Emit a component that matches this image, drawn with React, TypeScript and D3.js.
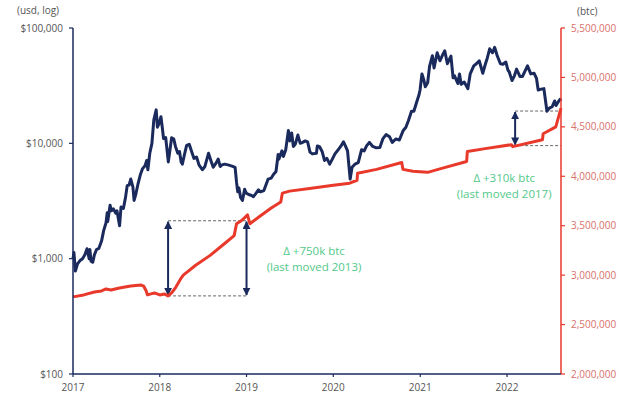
import React from 'react';
import * as d3 from 'd3';

// bitcoin price (usd)
const priceData: [string, number][] = [
  ['2017-01-01', 1000], ['2017-01-05', 1130], ['2017-01-11', 780], ['2017-01-20', 900],
  ['2017-02-01', 970], ['2017-02-10', 1000], ['2017-02-20', 1080], ['2017-03-01', 1220],
  ['2017-03-10', 1000], ['2017-03-13', 1200], ['2017-03-18', 950], ['2017-03-25', 930],
  ['2017-04-01', 1080], ['2017-04-10', 1200], ['2017-04-20', 1230], ['2017-05-01', 1420],
  ['2017-05-10', 1750], ['2017-05-20', 2050], ['2017-05-25', 2500], ['2017-05-27', 2100],
  ['2017-06-06', 2900], ['2017-06-12', 2600], ['2017-06-20', 2700], ['2017-06-30', 2480],
  ['2017-07-05', 2600], ['2017-07-16', 1930], ['2017-07-22', 2800], ['2017-08-01', 2720],
  ['2017-08-10', 3400], ['2017-08-17', 4300], ['2017-08-25', 4350], ['2017-09-01', 4900],
  ['2017-09-10', 4200], ['2017-09-15', 3200], ['2017-09-22', 3600], ['2017-10-01', 4400],
  ['2017-10-12', 5400], ['2017-10-20', 6000], ['2017-10-31', 6400], ['2017-11-07', 7100],
  ['2017-11-12', 5900], ['2017-11-20', 8200], ['2017-11-29', 10000], ['2017-12-07', 16000],
  ['2017-12-17', 19500], ['2017-12-22', 13800], ['2017-12-28', 14700],
  ['2018-01-06', 17000], ['2018-01-12', 13500], ['2018-01-17', 11000], ['2018-01-26', 11200],
  ['2018-02-06', 6900], ['2018-02-12', 8500], ['2018-02-20', 11200], ['2018-03-01', 10900],
  ['2018-03-08', 9400], ['2018-03-18', 8200], ['2018-03-25', 8500], ['2018-04-01', 6900],
  ['2018-04-06', 6600], ['2018-04-15', 8000], ['2018-04-24', 9600], ['2018-05-05', 9800],
  ['2018-05-15', 8500], ['2018-05-25', 7400], ['2018-06-05', 7600], ['2018-06-15', 6500],
  ['2018-06-29', 5900], ['2018-07-10', 6300], ['2018-07-25', 8200], ['2018-08-05', 7000],
  ['2018-08-14', 6200], ['2018-08-25', 6700], ['2018-09-04', 7300], ['2018-09-12', 6300],
  ['2018-09-20', 6500], ['2018-10-01', 6600], ['2018-10-15', 6500], ['2018-11-01', 6350],
  ['2018-11-14', 6200], ['2018-11-20', 4600], ['2018-11-25', 3800], ['2018-11-30', 4100],
  ['2018-12-07', 3400], ['2018-12-15', 3200], ['2018-12-24', 4000], ['2018-12-31', 3700],
  ['2019-01-10', 3600], ['2019-01-20', 3550], ['2019-01-30', 3450], ['2019-02-08', 3650],
  ['2019-02-20', 3950], ['2019-03-01', 3800], ['2019-03-15', 3900], ['2019-04-02', 4900],
  ['2019-04-15', 5000], ['2019-04-25', 5400], ['2019-05-05', 5700], ['2019-05-14', 8000],
  ['2019-05-17', 7300], ['2019-05-30', 8600], ['2019-06-05', 7700], ['2019-06-15', 8800],
  ['2019-06-26', 12900], ['2019-07-02', 10500], ['2019-07-10', 12300], ['2019-07-17', 9400],
  ['2019-07-25', 9800], ['2019-08-05', 11800], ['2019-08-15', 10000], ['2019-08-25', 10200],
  ['2019-09-05', 10500], ['2019-09-15', 10300], ['2019-09-25', 8400], ['2019-10-05', 8100],
  ['2019-10-22', 8200], ['2019-10-26', 9500], ['2019-11-05', 9300], ['2019-11-15', 8500],
  ['2019-11-25', 7100], ['2019-12-05', 7400], ['2019-12-17', 6600], ['2019-12-28', 7300],
  ['2020-01-08', 8100], ['2020-01-20', 8700], ['2020-02-01', 9400], ['2020-02-13', 10300],
  ['2020-02-20', 9600], ['2020-03-01', 8600], ['2020-03-12', 4900], ['2020-03-20', 6200],
  ['2020-04-01', 6600], ['2020-04-15', 6800], ['2020-04-29', 8800], ['2020-05-10', 8600],
  ['2020-05-20', 9500], ['2020-06-01', 10200], ['2020-06-15', 9400], ['2020-06-30', 9150],
  ['2020-07-15', 9200], ['2020-07-28', 11000], ['2020-08-10', 11900], ['2020-08-25', 11400],
  ['2020-09-05', 10200], ['2020-09-20', 10900], ['2020-10-05', 10700], ['2020-10-21', 12900],
  ['2020-11-01', 13700], ['2020-11-12', 15700], ['2020-11-25', 19000], ['2020-12-05', 19000],
  ['2020-12-17', 22800], ['2020-12-27', 26500], ['2020-12-31', 29000],
  ['2021-01-08', 40000], ['2021-01-15', 36000], ['2021-01-22', 31000], ['2021-02-01', 33500],
  ['2021-02-09', 46500], ['2021-02-21', 57500], ['2021-02-28', 45000], ['2021-03-13', 61000],
  ['2021-03-25', 52000], ['2021-04-05', 58500], ['2021-04-14', 63500], ['2021-04-25', 49000],
  ['2021-05-10', 57000], ['2021-05-19', 37000], ['2021-05-25', 38500], ['2021-06-08', 33000],
  ['2021-06-15', 40000], ['2021-06-22', 32500], ['2021-07-05', 34000], ['2021-07-20', 29800],
  ['2021-07-30', 40000], ['2021-08-14', 47000], ['2021-08-25', 49000], ['2021-09-06', 52000],
  ['2021-09-21', 40500], ['2021-10-01', 48000], ['2021-10-10', 55000], ['2021-10-20', 66000],
  ['2021-11-01', 61000], ['2021-11-10', 68000], ['2021-11-20', 58000], ['2021-12-04', 49000],
  ['2021-12-15', 48500], ['2021-12-27', 50700],
  ['2022-01-05', 43000], ['2022-01-10', 41800], ['2022-01-22', 35000], ['2022-02-01', 38500],
  ['2022-02-10', 44000], ['2022-02-24', 38000], ['2022-03-07', 38000], ['2022-03-28', 47000],
  ['2022-04-11', 40000], ['2022-04-25', 40500], ['2022-05-05', 36500], ['2022-05-12', 29000],
  ['2022-05-25', 29500], ['2022-06-05', 29800], ['2022-06-13', 22500], ['2022-06-18', 19000],
  ['2022-06-28', 20200], ['2022-07-10', 20800], ['2022-07-20', 23300], ['2022-07-26', 21300],
  ['2022-08-05', 23000], ['2022-08-12', 24100], ['2022-08-16', 23300],
];

// supply held (btc)
const supplyData: [string, number][] = [
  ['2017-01-01', 2780000], ['2017-02-15', 2800000], ['2017-04-01', 2830000], ['2017-05-01', 2840000],
  ['2017-05-20', 2860000], ['2017-06-10', 2850000], ['2017-07-15', 2870000], ['2017-09-01', 2890000],
  ['2017-10-15', 2900000], ['2017-10-25', 2890000], ['2017-11-05', 2840000], ['2017-11-10', 2800000],
  ['2017-11-25', 2810000], ['2017-12-10', 2820000], ['2018-01-01', 2800000], ['2018-01-20', 2810000],
  ['2018-02-05', 2790000], ['2018-02-20', 2820000], ['2018-03-10', 2880000], ['2018-04-01', 2970000],
  ['2018-04-10', 3000000], ['2018-06-01', 3100000], ['2018-08-01', 3200000], ['2018-10-01', 3320000],
  ['2018-11-10', 3400000], ['2018-11-20', 3520000], ['2018-12-10', 3550000], ['2018-12-28', 3590000],
  ['2019-01-05', 3610000], ['2019-01-15', 3520000], ['2019-03-01', 3600000], ['2019-04-15', 3680000],
  ['2019-05-25', 3740000], ['2019-06-01', 3830000], ['2019-07-01', 3850000], ['2019-10-01', 3880000],
  ['2020-01-01', 3910000], ['2020-03-10', 3930000], ['2020-04-10', 3960000], ['2020-04-12', 4030000],
  ['2020-07-01', 4070000], ['2020-10-15', 4140000], ['2020-10-20', 4070000], ['2020-12-01', 4050000],
  ['2021-02-01', 4040000], ['2021-04-01', 4080000], ['2021-07-15', 4150000], ['2021-07-18', 4250000],
  ['2021-10-01', 4280000], ['2022-01-20', 4320000], ['2022-01-25', 4300000], ['2022-05-30', 4370000],
  ['2022-06-02', 4430000], ['2022-07-25', 4500000], ['2022-08-16', 4690000],
];

const priceTicks = [100, 1000, 10000, 100000];
const supplyTicks = [2000000, 2500000, 3000000, 3500000, 4000000, 4500000, 5000000, 5500000];
const yearTicks = ['2017', '2018', '2019', '2020', '2021', '2022'];

// delta annotations: arrow dates, low/high supply levels, labels
const arrowDates = [['2018-02-05', '2019-01-01'], ['2022-02-04']];
const deltaLevels: [number, number][] = [[2790000, 3550000], [4310000, 4660000]];
const deltaLabels = [['Δ +750k btc', '(last moved 2013)'], ['Δ +310k btc', '(last moved 2017)']];
const labelAnchors: [string, number][] = [['2019-10-12', 3200000], ['2021-12-20', 3940000]];

const W = 640;
const H = 394;
const margin = { top: 28, right: 79, bottom: 20, left: 73 };
const navy = '#1b2a5c';
const red = '#e8392b';
const green = '#52c98a';
const font = '"Open Sans", "Noto Sans", sans-serif';

const parse = d3.timeParse('%Y-%m-%d');

const App = () => {
  const x = d3.scaleTime()
    .domain([parse('2017-01-01')!, parse('2022-08-16')!])
    .range([margin.left, W - margin.right]);
  const yPrice = d3.scaleLog().domain([100, 100000]).range([H - margin.bottom, margin.top]);
  const ySupply = d3.scaleLinear().domain([2000000, 5500000]).range([H - margin.bottom, margin.top]);

  const priceLine = d3.line<[string, number]>()
    .x(d => x(parse(d[0])!))
    .y(d => yPrice(d[1]));
  const supplyLine = d3.line<[string, number]>()
    .x(d => x(parse(d[0])!))
    .y(d => ySupply(d[1]));

  const x0 = margin.left;
  const x1 = W - margin.right;
  const yBottom = H - margin.bottom;

  return (
    <svg width={W} height={H} style={{ position: 'absolute', left: 0, top: 0, background: '#fff' }} fontFamily={font}>
      <defs>
        <marker id="head" viewBox="0 0 10 10" refX="9" refY="5" markerWidth="4" markerHeight="4" orient="auto-start-reverse">
          <path d="M0,0 L10,5 L0,10 z" fill={navy} />
        </marker>
      </defs>

      {/* axis titles */}
      <text x={17} y={14} fontSize={10} fill="#555">(usd, log)</text>
      <text x={577} y={15} fontSize={10} fill="#555">(btc)</text>

      {/* dashed guides and arrows */}
      {arrowDates.map((dates, i) => {
        const [lo, hi] = deltaLevels[i];
        const xs = dates.map(d => x(parse(d)!));
        const xEnd = dates.length > 1 ? xs[xs.length - 1] : x1;
        return (
          <g key={i}>
            {[lo, hi].map(v => (
              <line key={v} x1={xs[0]} x2={xEnd} y1={ySupply(v)} y2={ySupply(v)}
                stroke="#666" strokeWidth={1} strokeDasharray="3,2" />
            ))}
            {xs.map((xx, j) => (
              <line key={j} x1={xx} x2={xx} y1={ySupply(lo) - 1} y2={ySupply(hi) + 1}
                stroke={navy} strokeWidth={2} markerStart="url(#head)" markerEnd="url(#head)" />
            ))}
          </g>
        );
      })}

      {/* series */}
      <path d={supplyLine(supplyData) || ''} fill="none" stroke={red} strokeWidth={3} strokeLinejoin="round" />
      <path d={priceLine(priceData) || ''} fill="none" stroke={navy} strokeWidth={3} strokeLinejoin="round" />

      {/* annotation labels */}
      {deltaLabels.map((lines, i) => {
        const lx = x(parse(labelAnchors[i][0])!);
        const ly = ySupply(labelAnchors[i][1]);
        return lines.map((t, j) => (
          <text key={i + '-' + j} x={lx} y={ly + j * 16} fontSize={11.5} fill={green} textAnchor="middle">{t}</text>
        ));
      })}

      {/* left axis */}
      <line x1={x0} x2={x0} y1={margin.top} y2={yBottom} stroke={navy} strokeWidth={1.5} />
      {priceTicks.map(t => (
        <g key={t}>
          <line x1={x0 - 4} x2={x0} y1={yPrice(t)} y2={yPrice(t)} stroke={navy} strokeWidth={1.2} />
          <text x={x0 - 10} y={yPrice(t)} dy="0.35em" textAnchor="end" fontSize={10} fill="#555">
            {'$' + d3.format(',')(t)}
          </text>
        </g>
      ))}

      {/* right axis */}
      <line x1={x1} x2={x1} y1={margin.top} y2={yBottom} stroke={red} strokeWidth={1.5} />
      {supplyTicks.map(t => (
        <g key={t}>
          <line x1={x1} x2={x1 + 4} y1={ySupply(t)} y2={ySupply(t)} stroke={red} strokeWidth={1.2} />
          <text x={x1 + 10} y={ySupply(t)} dy="0.35em" fontSize={10} fill="#d9706a">
            {d3.format(',')(t)}
          </text>
        </g>
      ))}

      {/* bottom axis */}
      <line x1={x0} x2={x1} y1={yBottom} y2={yBottom} stroke={navy} strokeWidth={1.5} />
      {yearTicks.map(t => {
        const xx = x(parse(t + '-01-01')!);
        return (
          <g key={t}>
            <line x1={xx} x2={xx} y1={yBottom} y2={yBottom + 3} stroke={navy} strokeWidth={1.2} />
            <text x={xx} y={yBottom + 17} textAnchor="middle" fontSize={10} fill="#555">{t}</text>
          </g>
        );
      })}
    </svg>
  );
};

export default App;
